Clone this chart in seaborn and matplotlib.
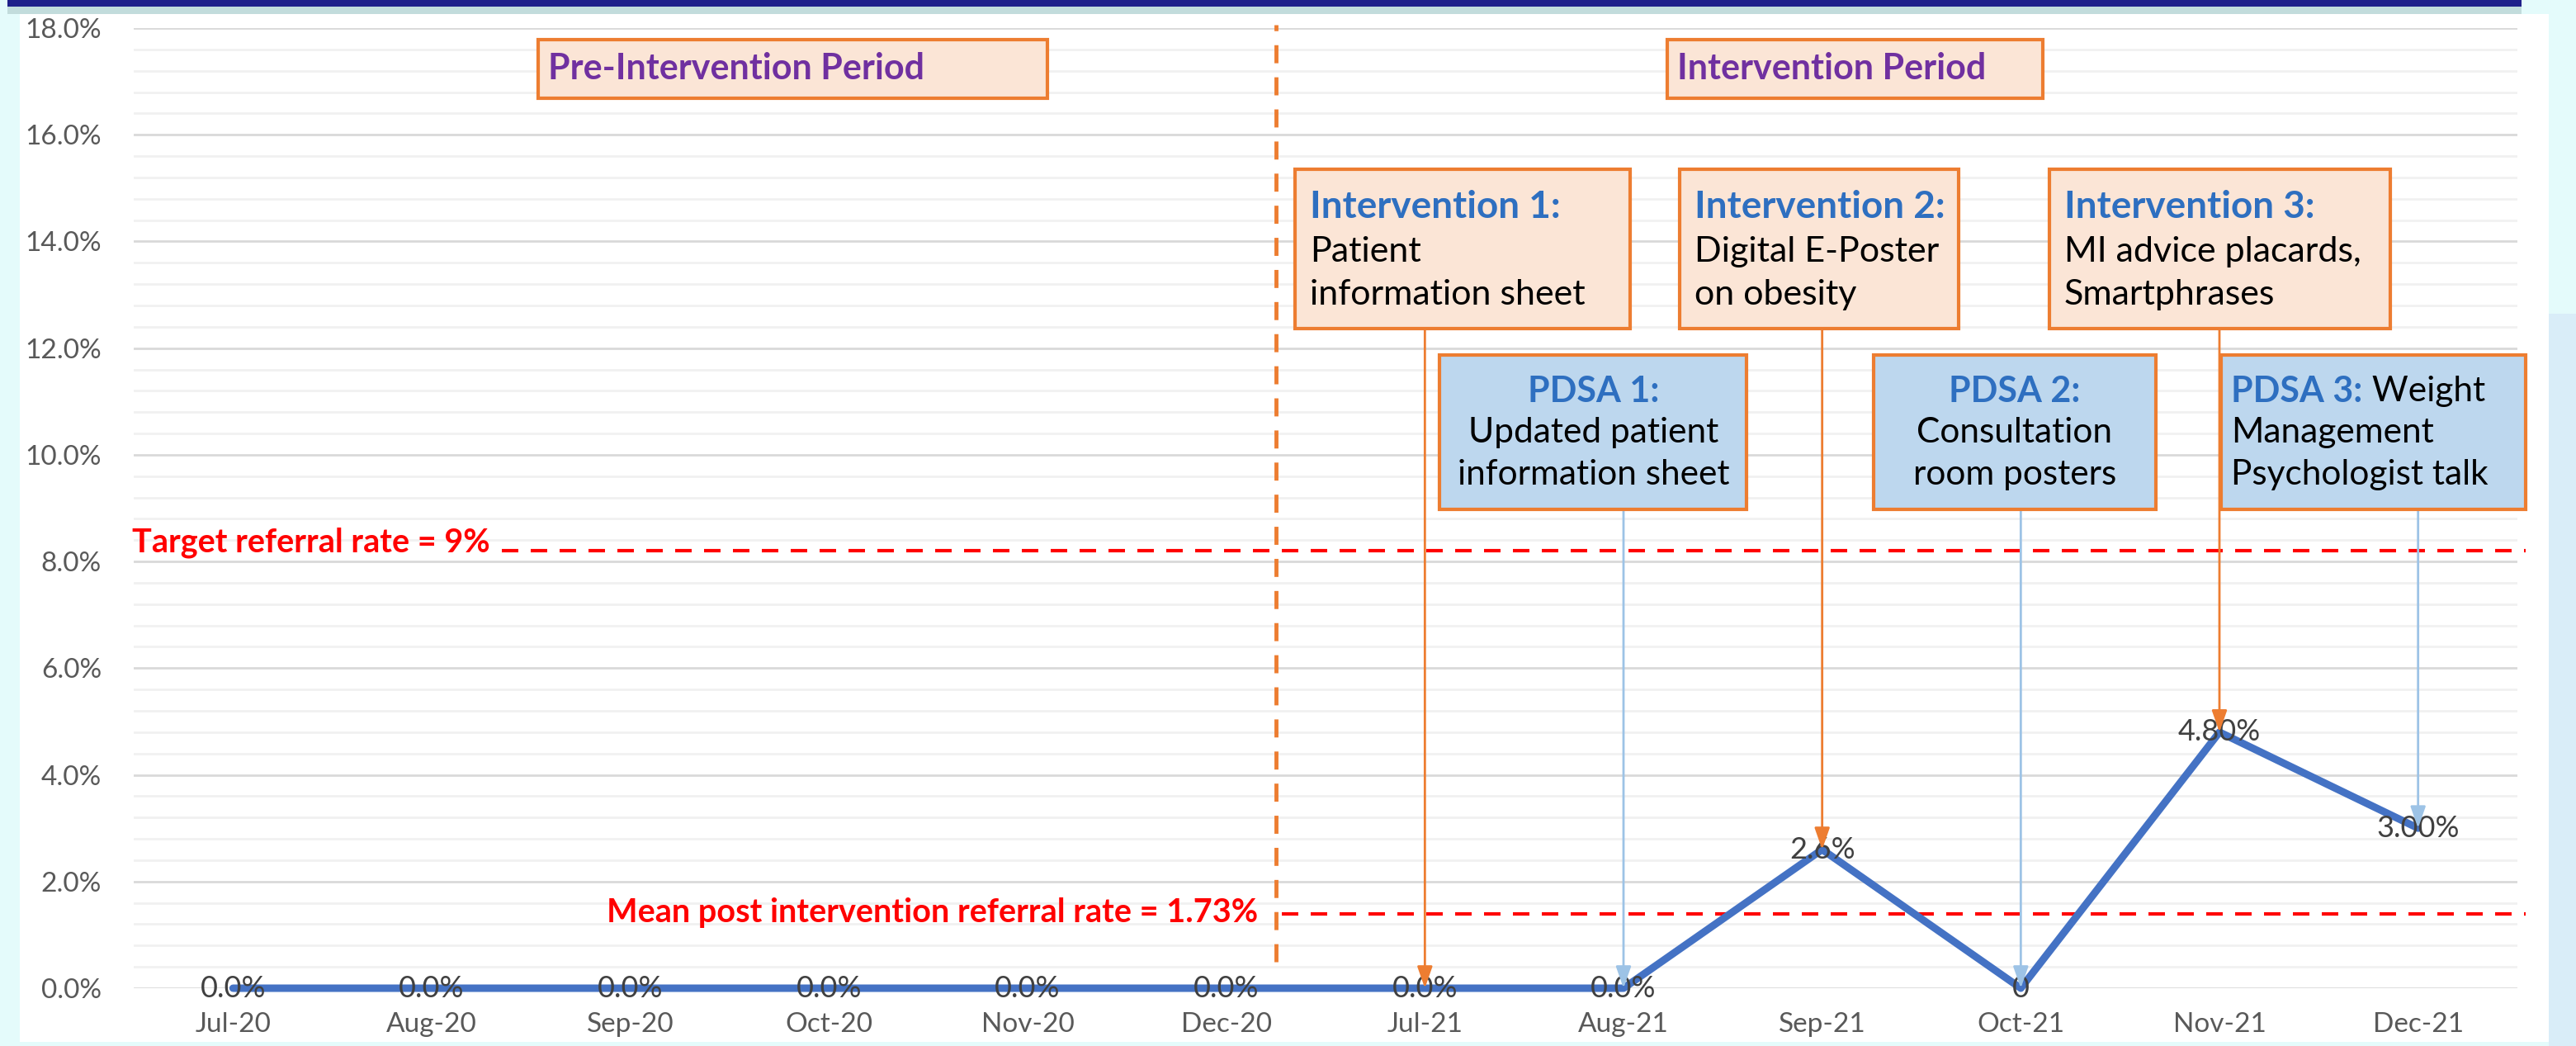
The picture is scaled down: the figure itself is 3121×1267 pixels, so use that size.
import matplotlib
matplotlib.use("Agg")
import pandas as pd
import matplotlib.pyplot as plt
import seaborn as sns
from matplotlib.patches import Rectangle
from matplotlib.ticker import MultipleLocator, FuncFormatter

# --- data ---
months = ["Jul-20", "Aug-20", "Sep-20", "Oct-20", "Nov-20", "Dec-20",
          "Jul-21", "Aug-21", "Sep-21", "Oct-21", "Nov-21", "Dec-21"]
rates = [0.0, 0.0, 0.0, 0.0, 0.0, 0.0, 0.0, 0.0, 2.6, 0.0, 4.8, 3.0]
point_labels = ["0.0%"] * 8 + ["2.6%", "0", "4.80%", "3.00%"]

target_level = 8.2   # where the "9%" target line is drawn
mean_level = 1.4     # where the "1.73%" mean line is drawn
phase_split = 5.25   # divider between pre-intervention and intervention

# intervention boxes: (x0, x1, title, body lines, month index the arrow points to)
intervention_boxes = [
    (5.345, 7.032, "Intervention 1:", ["Patient", "information sheet"], 6),
    (7.281, 8.689, "Intervention 2:", ["Digital E-Poster", "on obesity"], 8),
    (9.142, 10.862, "Intervention 3:", ["MI advice placards,", "Smartphrases"], 10),
]
pdsa_boxes = [
    (6.074, 7.621, "PDSA 1:", ["Updated patient", "information sheet"], 7),
    (8.257, 9.681, "PDSA 2:", ["Consultation", "room posters"], 9),
    (10.01, 11.54, "PDSA 3:", ["Management", "Psychologist talk"], 11),
]

df = pd.DataFrame({"Month": months, "Rate": rates})

sns.set_style("white")
plt.rcParams["font.family"] = ["Lato", "DejaVu Sans"]

W, H = 3121, 1267
fig = plt.figure(figsize=(W / 100, H / 100), dpi=100)
fig.patch.set_facecolor("#e4fbfb")

# slide-like background pieces
fig.add_artist(Rectangle((3088 / W, 0), 33 / W, 0.7, transform=fig.transFigure,
                         fc="#d9edf8", ec="none", zorder=0))
fig.add_artist(Rectangle((24 / W, 5 / H), 3064 / W, 1245 / H, transform=fig.transFigure,
                         fc="white", ec="none", zorder=0))
fig.add_artist(Rectangle((9 / W, 1 - 17 / H), 3046 / W, 9 / H, transform=fig.transFigure,
                         fc="#c2dcdc", ec="none", zorder=0))
fig.add_artist(Rectangle((9 / W, 1 - 8 / H), 3046 / W, 8 / H, transform=fig.transFigure,
                         fc="#1f1f8a", ec="none", zorder=0))

ax = fig.add_axes([162 / W, 70 / H, (3050 - 162) / W, (1197 - 34) / H])
ax.set_facecolor("none")

sns.lineplot(data=df, x="Month", y="Rate", sort=False, color="#4472c4",
             linewidth=6.5, ax=ax, zorder=3)
for ln in ax.lines:
    ln.set_clip_on(False)

ax.set_xlim(-0.5, 11.5)
ax.set_ylim(0, 18)
ax.yaxis.set_major_locator(MultipleLocator(2))
ax.yaxis.set_minor_locator(MultipleLocator(0.4))
ax.yaxis.set_major_formatter(FuncFormatter(lambda v, p: f"{v:.1f}%"))
ax.grid(which="major", axis="y", color="#d9d9d9", linewidth=2, zorder=0)
ax.grid(which="minor", axis="y", color="#f1f1f1", linewidth=2, zorder=0)
ax.grid(which="major", axis="x", visible=False)
ax.set_axisbelow(True)
for s in ax.spines.values():
    s.set_visible(False)
ax.tick_params(axis="y", which="both", length=0, pad=28, labelsize=24, labelcolor="#595959")
ax.tick_params(axis="x", length=0, pad=21, labelsize=24, labelcolor="#595959")
ax.set_xlabel("")
ax.set_ylabel("")

# data labels
for i, (v, lab) in enumerate(zip(rates, point_labels)):
    ax.text(i, v, lab, ha="center", va="center", fontsize=26, color="#404040", zorder=4)

# reference lines
ax.plot([1.352, 11.54], [target_level, target_level], color="#ff0000", lw=3,
        dashes=(4.8, 3.6), clip_on=False, zorder=2)
ax.plot([5.28, 11.54], [mean_level, mean_level], color="#ff0000", lw=3,
        dashes=(4.8, 3.6), clip_on=False, zorder=2)
ax.text(-0.508, 8.36, "Target referral rate = 9%", color="#ff0000", fontsize=28.5,
        fontweight="bold", ha="left", va="center", clip_on=False)
ax.text(5.16, 1.42, "Mean post intervention referral rate = 1.73%", color="#ff0000",
        fontsize=28.5, fontweight="bold", ha="right", va="center")

# phase divider
ax.plot([phase_split, phase_split], [0.5, 18.06], color="#ed7d31", lw=3.5,
        dashes=(4.5, 3.5), clip_on=False, zorder=2)

# phase labels
for x0, x1, lab in [(1.535, 4.098, "Pre-Intervention Period"),
                    (7.22, 9.11, "Intervention Period")]:
    ax.add_patch(Rectangle((x0, 16.69), x1 - x0, 17.79 - 16.69, fc="#fbe5d6",
                           ec="#ed7d31", lw=3, zorder=6, clip_on=False))
    ax.text(x0 + 0.05, 17.24, lab, color="#7030a0", fontsize=31, fontweight="bold",
            ha="left", va="center", zorder=7)

# intervention boxes and arrows
for x0, x1, title, body, idx in intervention_boxes:
    ax.add_patch(Rectangle((x0, 12.37), x1 - x0, 15.36 - 12.37, fc="#fbe5d6",
                           ec="#ed7d31", lw=3, zorder=6, clip_on=False))
    ax.text(x0 + 0.075, 14.64, title, color="#2e6fc0", fontsize=33, fontweight="bold",
            ha="left", va="center", zorder=7)
    for ly, line in zip([13.81, 13.0], body):
        ax.text(x0 + 0.075, ly, line, color="black", fontsize=31,
                ha="left", va="center", zorder=7)
    ax.annotate("", xy=(idx, rates[idx]), xytext=(idx, 12.37),
                arrowprops=dict(arrowstyle="-|>,head_length=0.8,head_width=0.28",
                                color="#ed7d31", lw=2, shrinkA=0, shrinkB=0,
                                mutation_scale=20), zorder=5)

for k, (x0, x1, title, body, idx) in enumerate(pdsa_boxes):
    ax.add_patch(Rectangle((x0, 8.98), x1 - x0, 11.87 - 8.98, fc="#bdd7ee",
                           ec="#ed7d31", lw=3, zorder=6, clip_on=False))
    if k < 2:
        xc = (x0 + x1) / 2
        ax.text(xc, 11.19, title, color="#2e6fc0", fontsize=31, fontweight="bold",
                ha="center", va="center", zorder=7)
        for ly, line in zip([10.42, 9.63], body):
            ax.text(xc, ly, line, color="black", fontsize=30.5,
                    ha="center", va="center", zorder=7)
    else:
        t1 = ax.text(x0 + 0.05, 11.19, title, color="#2e6fc0", fontsize=31,
                     fontweight="bold", ha="left", va="center", zorder=7)
        ax.annotate(" Weight", xy=(1, 0.5), xycoords=t1, color="black", fontsize=30.5,
                    ha="left", va="center", zorder=7)
        for ly, line in zip([10.42, 9.63], body):
            ax.text(x0 + 0.05, ly, line, color="black", fontsize=30.5,
                    ha="left", va="center", zorder=7)
    ax.annotate("", xy=(idx, rates[idx]), xytext=(idx, 8.98),
                arrowprops=dict(arrowstyle="-|>,head_length=0.8,head_width=0.28",
                                color="#9dc3e6", lw=2, shrinkA=0, shrinkB=0,
                                mutation_scale=20), zorder=5)

fig.savefig("out.png", dpi=100)
